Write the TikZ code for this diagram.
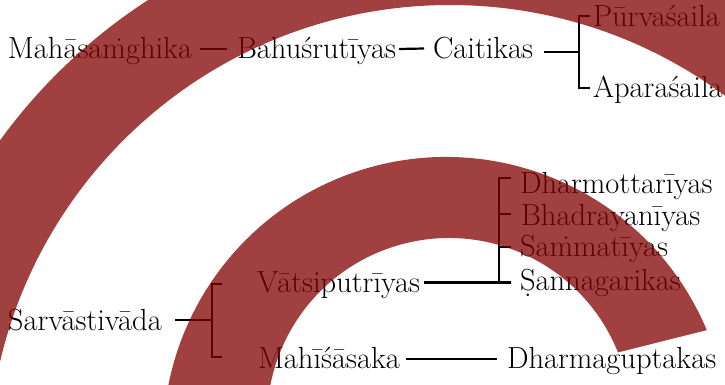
\documentclass[tikz,border=0pt]{standalone}
\usepackage{fontspec}
\usetikzlibrary{calc}
\definecolor{bandred}{RGB}{128,0,0}
\begin{document}
\begin{tikzpicture}[x=1pt,y=1pt,
  lbl/.style={anchor=base west, inner sep=0pt, outer sep=0pt, font=\fontsize{30.5}{36}\selectfont},
  conn/.style={line width=2.2pt, draw=black},
  band/.style={fill=bandred, fill opacity=0.75}]
\useasboundingbox (0,0) rectangle (725,384);
% labels
\node[lbl] (mahas) at (8,325.5) {Mahāsa\.mghika};
\node[lbl] (bahu) at (237,325.5) {Bahuśrutīyas};
\node[lbl] (cait) at (433,326) {Caitikas};
\node[lbl] (purva) at (593,358) {Pūrvaśaila};
\node[lbl] (apara) at (593,287) {Aparaśaila};
\node[lbl] (sarva) at (8,54) {Sarvāstivāda};
\node[lbl] (vatsi) at (257,92) {Vātsiputrīyas};
\node[lbl] (mahis) at (258,16) {Mahīśāsaka};
\node[lbl] (dgupt) at (507,16) {Dharmaguptakas};
\node[lbl] (dotta) at (520,191) {Dharmottarīyas};
\node[lbl] (bhadra) at (521,159) {Bhadrayanīyas};
\node[lbl] (samma) at (520,128) {Sa\.mmatīyas};
\node[lbl] (sanna) at (520,94) {\d{S}annagarikas};
% upper connectors
\draw[conn] ($(mahas.base east)+(8,9.5)$) -- ($(bahu.base west)+(-10,9.5)$);
\draw[conn] ($(bahu.base east)+(3,9.5)$) -- ($(cait.base west)+(-9,9.5)$);
\coordinate (cL) at ($(cait.base east)+(11,6)$);
\coordinate (bx) at ($(purva.base west)+(-14,0)$);
\coordinate (pT) at ($(purva.base west)+(-3,10)$);
\coordinate (aT) at ($(apara.base west)+(-3,9)$);
\draw[conn] (cL) -- (cL -| bx);
\draw[conn] (pT) -| (bx |- aT) -- (aT);
% lower connectors
\coordinate (sL) at ($(sarva.base east)+(13,10)$);
\coordinate (sx) at ($(vatsi.base west)+(-45,0)$);
\coordinate (vT) at ($(vatsi.base west)+(-35,8)$);
\coordinate (mT) at ($(mahis.base west)+(-36,11)$);
\draw[conn] (sL) -- (sL -| sx);
\draw[conn] (vT) -| (sx |- mT) -- (mT);
\coordinate (vL) at ($(vatsi.base east)+(4,9.5)$);
\coordinate (dx) at ($(dotta.base west)+(-21,0)$);
\coordinate (t1) at ($(dotta.base west)+(-9,15)$);
\coordinate (t2) at ($(bhadra.base west)+(-10,11)$);
\coordinate (t3) at ($(samma.base west)+(-9,9)$);
\coordinate (t4) at ($(sanna.base west)+(-9,7.5)$);
\draw[conn] (vL) -- (t4);
\draw[conn] (t1) -| (dx |- t4);
\draw[conn] (t2) -- (t2 -| dx);
\draw[conn] (t3) -- (t3 -| dx);
\draw[conn] ($(mahis.base east)+(6,9)$) -- ($(dgupt.base west)+(-10,9)$);
% bands
\begin{scope}
\clip (0,0) rectangle (725,384);
\fill[band, even odd rule] (450,-83) circle[radius=556] (450,-83) circle[radius=462];
\fill[band] ([shift={(446,-56)}]22.85:283) arc[start angle=22.85, end angle=195, radius=283]
  -- ([shift={(449,-36)}]195:182) arc[start angle=195, end angle=21.8, radius=182] -- cycle;
\end{scope}
\end{tikzpicture}
\end{document}
